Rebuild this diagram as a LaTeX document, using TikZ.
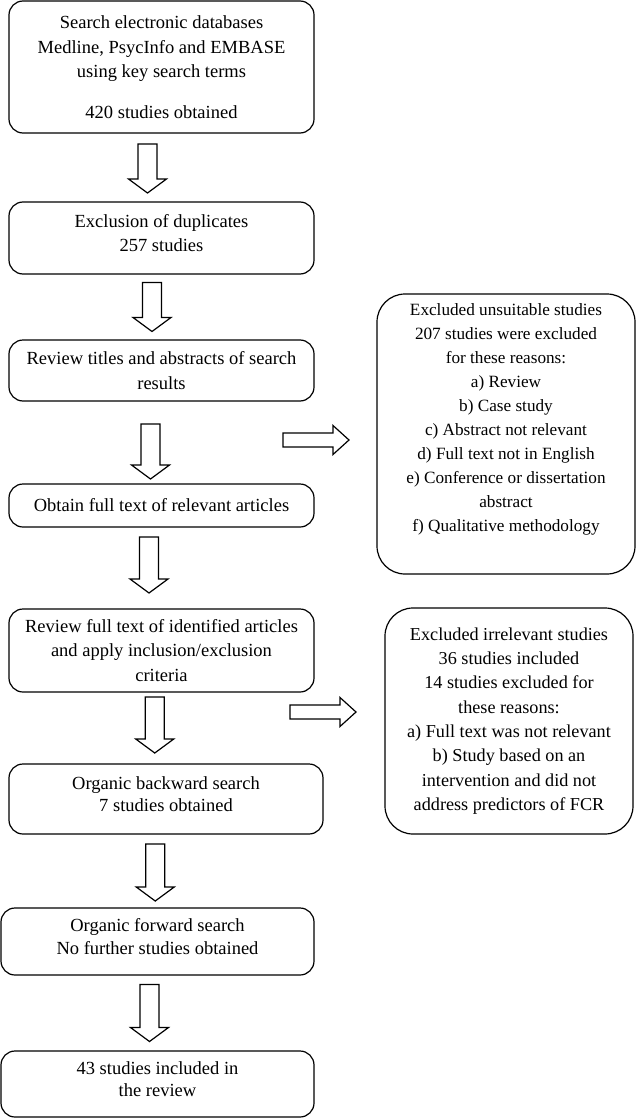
\documentclass[tikz,border=0pt]{standalone}
\usepackage{fontspec}
\setmainfont{Liberation Serif}
\usetikzlibrary{calc}
\tikzset{
  box/.style={draw, line width=1.2pt, rounded corners=14pt, align=center, inner sep=3pt,
    font=\fontsize{18.5}{24.5}\selectfont},
  bigbox/.style={box, rounded corners=28pt},
  blk/.style={draw, line width=1.2pt, fill=white, line join=miter},
  pics/dnarrow/.style={code={
    \draw[blk] (-9.5,-#1/2) -- (9.5,-#1/2) -- (9.5,#1/2-14) -- (19,#1/2-14) -- (0,#1/2)
      -- (-19,#1/2-14) -- (-9.5,#1/2-14) -- cycle;}},
  pics/rtarrow/.style={code={
    \draw[blk] (-#1/2,-7) -- (#1/2-16,-7) -- (#1/2-16,-14.5) -- (#1/2,0) -- (#1/2-16,14.5)
      -- (#1/2-16,7) -- (-#1/2,7) -- cycle;}}
}
\begin{document}
\begin{tikzpicture}[x=1pt,y=-1pt]
\useasboundingbox (0,0) rectangle (636,1118);

\node[box, minimum width=305pt, minimum height=132pt] (b1) at (161.5,67)
  {Search electronic databases\\ Medline, PsycInfo and EMBASE\\ using key search terms\\[16pt] 420 studies obtained};
\node[box, minimum width=305pt, minimum height=72pt] (b2) at (161.5,238)
  {Exclusion of duplicates\\ 257 studies\rule[-10pt]{0pt}{1pt}};
\node[box, minimum width=305pt, minimum height=61pt] (b3) at (161.5,370.5)
  {Review titles and abstracts of search\\ results};
\node[box, minimum width=305pt, minimum height=43pt] (b4) at (161.5,505.5)
  {Obtain full text of relevant articles};
\node[box, minimum width=305pt, minimum height=83pt] (b5) at (161.5,650.5)
  {Review full text of identified articles\\ and apply inclusion/exclusion\\ criteria};
\node[box, minimum width=314pt, minimum height=70pt, font=\fontsize{18.5}{22.5}\selectfont] (b6) at (166,799)
  {Organic backward search\\ 7 studies obtained\rule[-10pt]{0pt}{1pt}};
\node[box, minimum width=313pt, minimum height=67pt, font=\fontsize{18.5}{22.5}\selectfont] (b7) at (157.5,941.5)
  {Organic forward search\\ No further studies obtained\rule[-10pt]{0pt}{1pt}};
\node[box, minimum width=313pt, minimum height=66pt, font=\fontsize{18.5}{22.5}\selectfont] (b8) at (157.5,1084)
  {43 studies included in\\ the review\rule[-10pt]{0pt}{1pt}};

\node[bigbox, minimum width=258pt, minimum height=280pt, font=\fontsize{17.2}{24}\selectfont] (r1) at (506,434)
  {Excluded unsuitable studies\\ 207 studies were excluded\\ for these reasons:\\ a) Review\\ b) Case study\\
   c) Abstract not relevant\\ d) Full text not in English\\ e) Conference or dissertation\\ abstract\\
   f) Qualitative methodology\rule[-32pt]{0pt}{1pt}};
\node[bigbox, minimum width=248pt, minimum height=226pt, font=\fontsize{18.2}{24.3}\selectfont] (r2) at (509,721)
  {Excluded irrelevant studies\\ 36 studies included\\ 14 studies excluded for\\ these reasons:\\
   a) Full text was not relevant\\ b) Study based on an\\ intervention and did not\\ address predictors of FCR};

\pic at ([xshift=-14pt,yshift=-1pt]$(b1.south)!0.5!(b2.north)$) {dnarrow=49};
\pic at ([xshift=-9.5pt,yshift=0pt]$(b2.south)!0.5!(b3.north)$) {dnarrow=49};
\pic at ([xshift=-11pt,yshift=-9pt]$(b3.south)!0.5!(b4.north)$) {dnarrow=55};
\pic at ([xshift=-12.5pt,yshift=3pt]$(b4.south)!0.5!(b5.north)$) {dnarrow=56};
\pic at ([xshift=-9pt,yshift=3pt]$(b5.south)!0.5!(b6.north)$) {dnarrow=56};
\pic at ([xshift=-6.5pt,yshift=-1.5pt]$(b6.south)!0.5!(b7.north)$) {dnarrow=57};
\pic at ([xshift=-8pt,yshift=0pt]$(b7.south)!0.5!(b8.north)$) {dnarrow=57};

\pic at (316,440) {rtarrow=66};
\pic at (323,712) {rtarrow=66};
\end{tikzpicture}
\end{document}
